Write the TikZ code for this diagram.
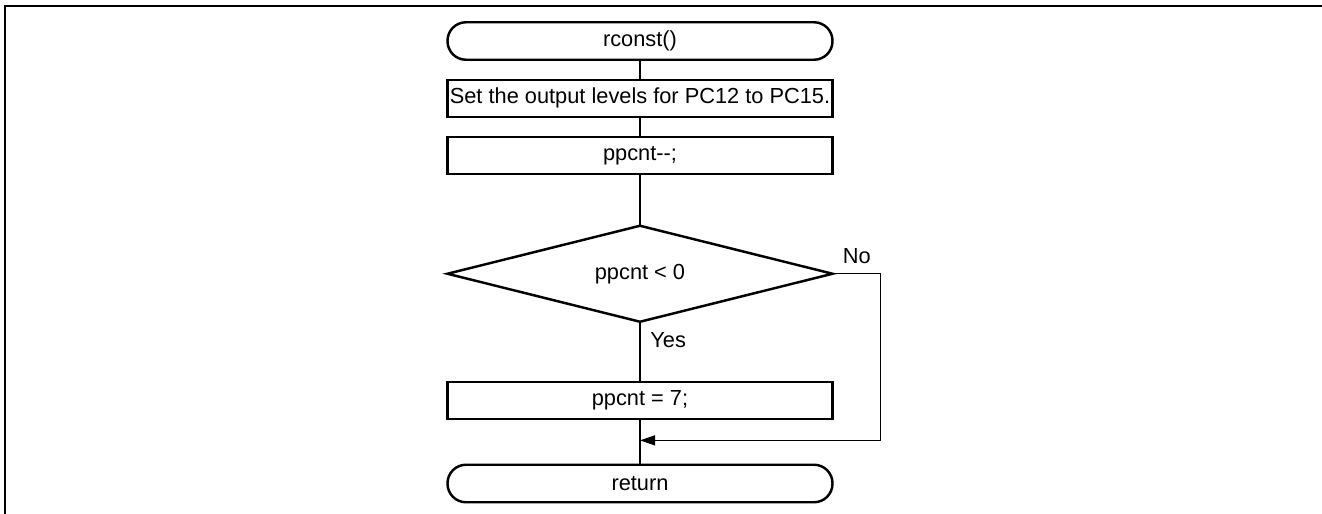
\documentclass[tikz,border=0pt]{standalone}
\usepackage{fontspec}
\setmainfont{Liberation Sans}
\usetikzlibrary{arrows.meta,positioning,shapes.geometric,calc}

\begin{document}
\begin{tikzpicture}[
  node distance=0.4cm,
  every node/.style={font=\fontsize{12.4}{14}\selectfont},
  term/.style={
    rectangle, draw, line width=1.4pt, rounded corners=0.37cm,
    minimum width=7.7cm, minimum height=0.75cm, inner sep=0pt, outer sep=0pt
  },
  proc/.style={
    rectangle, draw, line width=1.4pt,
    minimum width=7.7cm, minimum height=0.74cm, inner sep=0pt, outer sep=0pt
  },
  dec/.style={
    diamond, draw, line width=1.4pt, aspect=4,
    minimum width=7.7cm, minimum height=1.92cm, inner sep=0pt, outer sep=0pt
  },
  flow/.style={line width=0.6pt},
  arr/.style={-{Triangle[length=0.3cm, width=0.2cm]}, line width=0.6pt},
  lbl/.style={inner sep=0pt},
]
  \useasboundingbox (0,0) rectangle (26.44,-10.28);
  \draw[line width=1.7pt] (0.1,-10.28) -- (0.1,-0.12) -- (26.44,-0.12);

  \node[term] (start) at (12.8,-0.82) {rconst()};
  \node[proc, below=of start] (setlvl) {Set the output levels for PC12 to PC15.};
  \node[proc, below=of setlvl] (dec) {ppcnt-{}-;};
  \node[dec, below=1.04cm of dec] (chk) {ppcnt < 0};
  \node[proc, below=1.2cm of chk] (reset) {ppcnt = 7;};
  \node[term, below=0.92cm of reset] (ret) {return};
  \coordinate (mrg) at ($(reset.south)!0.47!(ret.north)$);

  \node[lbl, above right=0.2cm and 0.2cm of chk.east] (no) {No};
  \node[lbl, below right=0.2cm and 0.2cm of chk.south] (yes) {Yes};

  \draw[flow] (start) -- (setlvl);
  \draw[flow] (setlvl) -- (dec);
  \draw[flow] (dec) -- (chk);
  \draw[flow] (chk) -- (reset);
  \draw[flow] (reset) -- (ret);
  \draw[arr] (chk.east) -- ++(0.96,0) |- (mrg);
\end{tikzpicture}
\end{document}
